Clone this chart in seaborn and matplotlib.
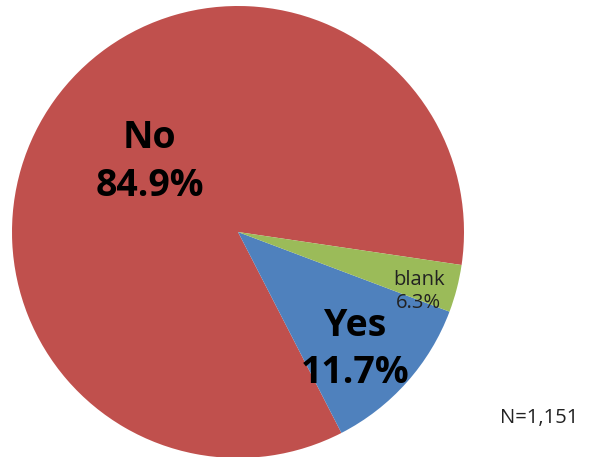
import matplotlib
matplotlib.use("Agg")
import matplotlib.pyplot as plt
import seaborn as sns

categories = ["No", "Yes", "blank"]
values = [84.9, 11.7, 3.4]
pct_labels = ["84.9%", "11.7%", "6.3%"]
colors = ["#C0504D", "#4F81BD", "#9BBB59"]
note = "N=1,151"

sns.set_theme(style="white")
plt.rcParams["font.family"] = ["Open Sans", "DejaVu Sans"]

fig = plt.figure(figsize=(5.95, 4.57), dpi=100)
ax = fig.add_axes([12 / 595, -1 / 457, 452 / 595, 452 / 457])
ax.pie(values, colors=colors, startangle=-8.4, counterclock=True,
       radius=1.0, wedgeprops=dict(linewidth=0))
ax.set_xlim(-1, 1)
ax.set_ylim(-1, 1)
ax.set_aspect("equal")
ax.axis("off")

# label positions (data units, radius = 1)
ax.text(-0.39, 0.31, f"{categories[0]}\n{pct_labels[0]}", ha="center", va="center",
        fontsize=27, fontweight="bold", color="black", linespacing=1.32)
ax.text(0.52, -0.52, f"{categories[1]}\n{pct_labels[1]}", ha="center", va="center",
        fontsize=27, fontweight="bold", color="black", linespacing=1.32)
ax.text(0.80, -0.265, f"{categories[2]}\n{pct_labels[2]}", ha="center", va="center",
        fontsize=14.5, color="#222222", linespacing=1.2)

fig.text(539 / 595, 1 - 418 / 457, note, ha="center", va="center",
         fontsize=14.5, color="#222222")

fig.savefig("out.png", dpi=100)
